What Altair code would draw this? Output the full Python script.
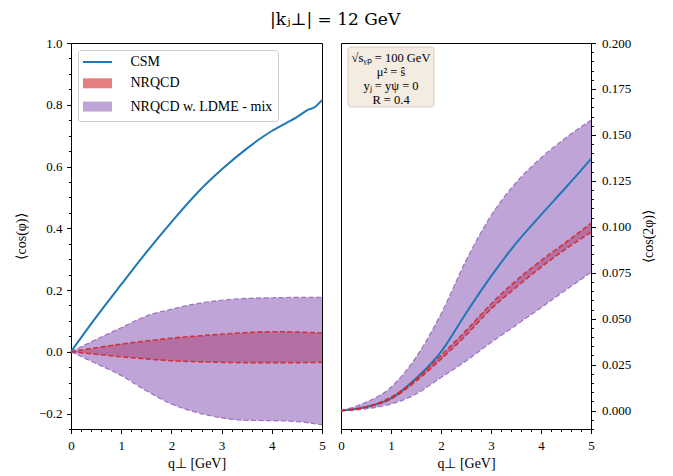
import altair as alt
import pandas as pd

FONT = "Liberation Serif"

# ---------------- data ----------------
q = [0, 0.5, 1, 1.5, 2, 2.5, 3, 3.5, 4, 4.5, 5]

# left panel: <cos(phi)>
left_csm_q = [0, 0.5, 1, 1.5, 2, 2.5, 3, 3.5, 4, 4.3, 4.5, 4.7, 4.85, 5]
left_csm = [0, 0.112, 0.218, 0.322, 0.42, 0.512, 0.59, 0.658, 0.715, 0.742, 0.76, 0.782, 0.792, 0.815]
left_nrqcd_hi = [0, 0.013, 0.025, 0.035, 0.044, 0.051, 0.057, 0.062, 0.065, 0.064, 0.061]
left_nrqcd_lo = [0, -0.008, -0.016, -0.023, -0.029, -0.032, -0.034, -0.035, -0.035, -0.035, -0.034]
left_mix_hi = [0, 0.04, 0.078, 0.116, 0.138, 0.156, 0.167, 0.173, 0.175, 0.176, 0.176]
left_mix_lo = [0, -0.038, -0.077, -0.126, -0.169, -0.196, -0.214, -0.222, -0.223, -0.226, -0.237]

# right panel: <cos(2phi)>
right_csm = [0, 0.002, 0.0067, 0.0175, 0.032, 0.053, 0.073, 0.091, 0.1065, 0.1215, 0.137]
right_nrqcd_hi = [0, 0.002, 0.0073, 0.017, 0.030, 0.0435, 0.058, 0.0707, 0.0816, 0.0916, 0.1019]
right_nrqcd_lo = [0, 0.0018, 0.0063, 0.016, 0.028, 0.041, 0.0553, 0.067, 0.078, 0.088, 0.097]
right_mix_hi = [0, 0.0045, 0.0127, 0.029, 0.0526, 0.0816, 0.106, 0.124, 0.1375, 0.1485, 0.158]
right_mix_lo = [0, 0.001, 0.0036, 0.009, 0.018, 0.027, 0.037, 0.0465, 0.056, 0.0657, 0.0752]

series = ["CSM", "NRQCD", "NRQCD w. LDME - mix"]
annotation = ["√sᵧₚ = 100 GeV", "μ² = ŝ", "yⱼ = yψ = 0", "R = 0.4"]

x_ticks = [round(0.2 * i, 2) for i in range(26)]
yl_ticks = [round(-0.25 + 0.05 * i, 3) for i in range(26)]
yr_ticks = [round(-0.01 + 0.005 * i, 4) for i in range(43)]

# ---------------- styles ----------------
BLUE = "#1f77b4"
RED = "#d62728"
PURPLE = "#9467bd"
NR_FILL = "#e67d7e"      # red @0.6 on white
MIX_LEGEND = "#bfa4d7"   # purple @0.6 on white


def major_test(step):
    return f"abs(datum.value/{step} - round(datum.value/{step})) < 1e-6"


x_axis = alt.Axis(
    values=x_ticks, title="q⊥ [GeV]",
    labelExpr=f"{major_test(1)} ? format(datum.value, 'd') : ''",
    tickSize={"condition": {"test": major_test(1), "value": 4.5}, "value": 2.5},
    labelFlush=False, labelOverlap=False, labelPadding=6, titlePadding=4,
    labelFontSize=13, titleFontSize=14,
)

yl_axis = alt.Axis(
    values=yl_ticks, title="⟨cos(φ)⟩",
    labelExpr=f"{major_test(0.2)} ? format(datum.value, '.1f') : ''",
    tickSize={"condition": {"test": major_test(0.2), "value": 4.5}, "value": 2.5},
    labelFlush=False, labelOverlap=False, labelPadding=4.5, titlePadding=10,
    labelFontSize=13, titleFontSize=14,
)

yr_axis = alt.Axis(
    values=yr_ticks, title="⟨cos(2φ)⟩", orient="right",
    labelExpr=f"{major_test(0.025)} ? format(datum.value, '.3f') : ''",
    tickSize={"condition": {"test": major_test(0.025), "value": 4.5}, "value": 2.5},
    labelFlush=False, labelOverlap=False, labelPadding=6, titlePadding=11,
    titleAngle=270, titleBaseline="top",
    labelFontSize=13, titleFontSize=14,
)

legend = alt.Legend(
    title=None, orient="top-left", offset=7,
    fillColor="white", strokeColor="#cccccc", cornerRadius=3, padding=5,
    rowPadding=5.3, labelFontSize=14, labelFont=FONT, labelColor="black",
    labelLimit=400, symbolSize=100, symbolStrokeWidth=2,
    symbolType={"expr": "datum.value == 'CSM' ? 'M-2.9,0H2.9' : 'M-2.9,-1H2.9V1H-2.9Z'"},
    symbolStrokeColor={"expr": f"datum.value == 'CSM' ? '{BLUE}' : 'transparent'"},
    symbolOffset=7.5, labelOffset=26,
)


def long_edges(lo, hi):
    return pd.DataFrame({
        "q": q + q,
        "v": lo + hi,
        "edge": ["lo"] * len(q) + ["hi"] * len(q),
    })


def panel(csm_q, csm, nr_lo, nr_hi, mix_lo, mix_hi, ydomain, yaxis, with_legend, width):
    xs = alt.Scale(domain=[0, 5], nice=False, zero=False)
    ys = alt.Scale(domain=ydomain, nice=False, zero=False)
    X = alt.X("q:Q", scale=xs, axis=x_axis)

    def Y(field):
        return alt.Y(field, type="quantitative", scale=ys, axis=yaxis)

    nr = pd.DataFrame({"q": q, "lo": nr_lo, "hi": nr_hi, "series": series[1]})
    mix = pd.DataFrame({"q": q, "lo": mix_lo, "hi": mix_hi})

    if with_legend:
        nr_color = alt.Color(
            "series:N",
            scale=alt.Scale(domain=series, range=[BLUE, NR_FILL, MIX_LEGEND]),
            legend=legend,
        )
    else:
        nr_color = alt.value(NR_FILL)

    nr_area = alt.Chart(nr).mark_area(opacity=1, interpolate="monotone").encode(
        x=X, y=Y("lo"), y2=alt.Y2("hi"), color=nr_color
    )
    mix_area = alt.Chart(mix).mark_area(
        color=PURPLE, opacity=0.6, interpolate="monotone"
    ).encode(x=X, y=Y("lo"), y2=alt.Y2("hi"))
    csm_line = alt.Chart(pd.DataFrame({"q": csm_q, "v": csm})).mark_line(
        color=BLUE, strokeWidth=2, interpolate="monotone"
    ).encode(x=X, y=Y("v"))
    mix_edges = alt.Chart(long_edges(mix_lo, mix_hi)).mark_line(
        color=PURPLE, strokeWidth=1.2, strokeDash=[5, 2.5], interpolate="monotone", opacity=0.9
    ).encode(x=X, y=Y("v"), detail="edge:N")
    nr_edges = alt.Chart(long_edges(nr_lo, nr_hi)).mark_line(
        color=RED, strokeWidth=1.6, strokeDash=[5, 2.5], interpolate="monotone", opacity=0.9
    ).encode(x=X, y=Y("v"), detail="edge:N")

    layers = [nr_area, mix_area, csm_line, mix_edges, nr_edges]
    return alt.layer(*layers).properties(width=width, height=386)


left = panel(left_csm_q, left_csm, left_nrqcd_lo, left_nrqcd_hi, left_mix_lo, left_mix_hi,
             [-0.25, 1.0], yl_axis, True, 251)

right_base = panel(q, right_csm, right_nrqcd_lo, right_nrqcd_hi, right_mix_lo, right_mix_hi,
                   [-0.01, 0.2], yr_axis, False, 250)

ann_df = pd.DataFrame({"t": ["\n".join(annotation)]})
ann_box = alt.Chart(ann_df).mark_rect(
    fill="#f4ebe1", stroke="#d6cdc3", strokeWidth=1, cornerRadius=3
).encode(x=alt.value(7), x2=alt.value(93), y=alt.value(4), y2=alt.value(64))
ann_text = alt.Chart(ann_df).mark_text(
    lineBreak="\n", lineHeight=14, align="center", baseline="top",
    fontSize=12.5, font=FONT, color="black"
).encode(x=alt.value(50), y=alt.value(9), text="t:N")

right = alt.layer(right_base, ann_box, ann_text)

chart = alt.hconcat(left, right, spacing=19, bounds="flush").properties(
    title=alt.TitleParams(
        text="|kⱼ⊥| = 12 GeV", fontSize=17, fontWeight="normal",
        anchor="middle", offset=8, color="black", font="DejaVu Serif"
    ),
    padding={"left": 13, "top": 10, "right": 10, "bottom": 4},
).configure(font=FONT).configure_view(
    stroke="black", strokeWidth=1
).configure_axis(
    domain=False, grid=False, tickColor="black", tickWidth=1,
    labelColor="black", titleColor="black", titleFontWeight="normal",
    labelFont=FONT, titleFont=FONT,
)

chart.save("out.html", embed_options={"renderer": "svg", "actions": False})
